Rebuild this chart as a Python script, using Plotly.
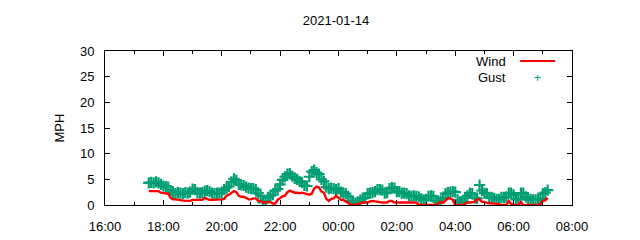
import pandas as pd
import plotly.graph_objects as go

start_time = "2021-01-14 17:30"
step = "5min"

wind = [
    2.7, 2.7, 2.8, 2.7, 2.7, 2.4,
    2.3, 2.3, 2.2, 1.4, 1.1, 1.1, 1.0, 1.0, 0.9, 0.8, 0.8, 0.8,
    1.0, 1.0, 1.0, 1.0, 1.0, 1.4, 1.2, 1.0, 1.0, 1.0, 1.0, 1.0,
    1.1, 1.2, 1.8, 2.0, 2.4, 2.7, 2.5, 1.8, 1.6, 1.6, 1.4, 1.1,
    1.1, 1.3, 1.3, 0.8, 0.8, 0.5, 0.5, 0.6, 0.6, 0.3, 0.3, 1.0,
    1.3, 1.7, 1.8, 2.5, 2.8, 2.6, 2.4, 2.4, 2.3, 2.4, 2.3, 2.1,
    2.0, 2.2, 3.2, 3.6, 3.4, 2.6, 2.4, 1.2, 0.8, 1.2, 1.3, 1.8,
    1.4, 1.0, 1.0, 0.7, 0.5, 0.1, 0.0, 0.0, 0.1, 0.3, 0.5, 0.5,
    0.5, 0.7, 0.8, 0.7, 0.6, 0.6, 0.5, 0.5, 0.5, 0.8, 0.8, 0.5,
    0.5, 0.6, 0.6, 0.6, 0.5, 0.5, 0.5, 0.5, 0.4, 0.1, 0.0, 0.0,
    0.0, 0.0, 0.0, 0.0, 0.0, 0.3, 0.6, 0.4, 0.9, 1.3, 1.3, 1.0,
    0.0, 0.0, 0.0, 0.0, 0.2, 0.5, 0.5, 0.5, 0.6, 1.1, 1.1, 0.6,
    0.6, 0.4, 0.3, 0.3, 0.3, 0.2, 0.0, 0.0, 0.0, 0.0, 0.8, 0.2,
    0.0, 0.0, 0.0, 0.6, 0.0, 0.0, 0.0, 0.0, 0.0, 0.0, 0.0, 0.2,
    0.8, 0.9, 1.4,
]

gust = [
    4.3, 4.4, 4.3, 4.5, 4.3, 4.0,
    3.7, 3.6, 3.5, 2.8, 2.3, 2.2, 2.4, 2.3, 2.2, 2.4, 2.3, 2.5,
    3.1, 3.0, 2.4, 2.3, 2.4, 2.7, 2.8, 2.6, 2.3, 2.2, 2.3, 2.3,
    2.4, 3.0, 3.4, 3.6, 4.5, 5.1, 4.8, 4.0, 3.9, 3.8, 3.5, 3.3,
    3.2, 3.2, 3.0, 2.3, 1.8, 0.5, 0.8, 1.5, 1.8, 2.0, 2.8, 3.1,
    4.0, 4.9, 5.5, 6.0, 6.1, 5.6, 5.2, 5.0, 4.6, 4.4, 3.8, 3.7,
    5.5, 6.5, 6.8, 6.3, 6.0, 5.0, 4.6, 3.5, 3.2, 3.3, 3.2, 3.0,
    3.2, 2.5, 2.3, 2.2, 1.7, 0.8, 0.5, 0.4, 0.6, 1.0, 1.3, 1.4,
    2.2, 2.3, 2.4, 2.6, 3.0, 3.0, 2.9, 2.3, 2.4, 3.2, 3.4, 3.3,
    2.6, 2.6, 2.3, 2.3, 2.2, 1.8, 1.7, 1.8, 1.7, 1.6, 1.2, 1.0,
    1.1, 1.7, 1.8, 1.7, 0.8, 0.5, 0.8, 1.3, 2.2, 2.4, 2.5, 2.6,
    2.5, 1.0, 0.5, 0.6, 1.5, 1.8, 2.3, 2.2, 1.4, 1.3, 3.9, 2.8,
    2.3, 2.2, 1.5, 1.5, 1.3, 1.1, 1.1, 1.5, 1.5, 1.6, 2.3, 2.3,
    2.0, 1.1, 1.1, 2.3, 2.3, 1.6, 1.1, 1.1, 1.0, 1.0, 1.0, 1.2,
    2.2, 2.4, 2.9,
]

x_range = ["2021-01-14 16:00", "2021-01-15 08:00"]
y_ticks = [0, 5, 10, 15, 20, 25, 30]
title_text = "2021-01-14"
y_title = "MPH"
series_names = ["Wind", "Gust"]

times = pd.date_range(start_time, periods=len(wind), freq=step)

WIND_C = "#ff0000"
GUST_C = "#009e73"
FONT = "Liberation Sans"
FS = 13

fig = go.Figure()
fig.add_trace(go.Scatter(
    x=times, y=gust, mode="markers", name=series_names[1],
    marker=dict(symbol="cross-thin", size=8, line=dict(color=GUST_C, width=2.2)),
    showlegend=False,
))
fig.add_trace(go.Scatter(
    x=times, y=wind, mode="lines", name=series_names[0],
    line=dict(color=WIND_C, width=2.4), showlegend=False,
))

# gnuplot-style key (top right, text then sample)
fig.add_annotation(xref="paper", yref="paper", x=0.862, y=0.935, text=series_names[0],
                   showarrow=False, xanchor="right", yanchor="middle",
                   font=dict(family=FONT, size=FS, color="black"))
fig.add_annotation(xref="paper", yref="paper", x=0.862, y=0.825, text=series_names[1],
                   showarrow=False, xanchor="right", yanchor="middle",
                   font=dict(family=FONT, size=FS, color="black"))
fig.add_shape(type="line", xref="paper", yref="paper", x0=0.889, x1=0.964, y0=0.935, y1=0.935,
              line=dict(color=WIND_C, width=2))
fig.add_annotation(xref="paper", yref="paper", x=0.927, y=0.825, text="+",
                   showarrow=False, xanchor="center", yanchor="middle",
                   font=dict(family=FONT, size=12, color=GUST_C))

axis_common = dict(
    showline=True, linecolor="black", linewidth=1, mirror="ticks",
    ticks="inside", tickcolor="black", ticklen=5, tickwidth=1,
    showgrid=False, zeroline=False, automargin=False,
    tickfont=dict(family=FONT, size=FS, color="black"),
)

fig.update_layout(
    width=640, height=240,
    margin=dict(l=105, r=68, t=51, b=35),
    paper_bgcolor="white", plot_bgcolor="white",
    title=dict(text=title_text, x=0.525, xanchor="center", y=0.915, yanchor="middle",
               font=dict(family=FONT, size=FS, color="black")),
    xaxis=dict(
        range=x_range, type="date", dtick=2 * 3600 * 1000, tick0="2021-01-14 16:00",
        tickformat="%H:%M", ticklabelstandoff=9,
        minor=dict(ticks="inside", dtick=3600 * 1000, ticklen=3, tickcolor="black", showgrid=False),
        **axis_common,
    ),
    yaxis=dict(
        range=[0, 30], tickvals=y_ticks, ticklabelstandoff=7,
        title=dict(text=y_title, font=dict(family=FONT, size=FS, color="black"), standoff=12),
        **axis_common,
    ),
)

fig.write_html("out.html")
